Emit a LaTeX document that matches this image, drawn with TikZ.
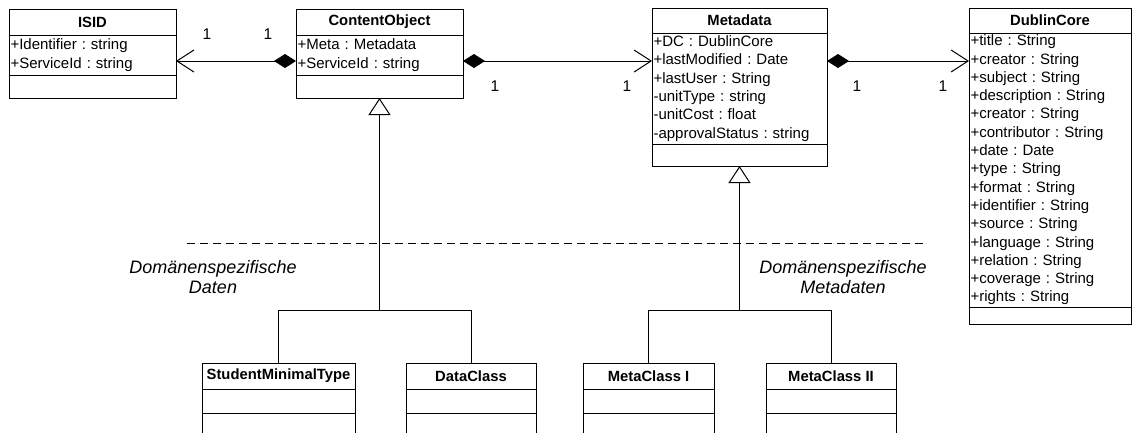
\documentclass[tikz,border=0pt]{standalone}
\usepackage{fontspec}
\setmainfont{Liberation Sans}
\usetikzlibrary{arrows.meta}
\frenchspacing

\begin{document}
\begin{tikzpicture}[x=1pt, y=-1pt, line width=1pt,
  every node/.style={font=\fontsize{15}{18.3}\selectfont, outer sep=0pt},
  clshead/.style={draw, rectangle, font=\fontsize{14.8}{18.3}\selectfont\bfseries, inner sep=0pt},
  clsbody/.style={draw, rectangle, anchor=north, align=left, inner xsep=1.5pt, inner ysep=0pt},
  mult/.style={font=\fontsize{15.5}{18}\selectfont},
  domlabel/.style={font=\fontsize{18}{20}\selectfont\itshape, align=center},
  comp/.style={{Diamond[length=22pt,width=14pt]}-{Straight Barb[length=17pt,width=22pt]}},
  gen/.style={{Triangle[open,length=17pt,width=22pt]}-}]
\useasboundingbox (0,0) rectangle (1132,432);
\clip (0,0) rectangle (1132,432);

% upper classes
\node[clshead, minimum width=167pt, minimum height=26pt] (isid) at (92.5,22) {ISID};
\node[clsbody, text width=164pt, minimum height=40pt] (isid-attr) at (isid.south) {+Identifier : string\\+ServiceId : string};
\node[clsbody, minimum width=167pt, minimum height=23pt] (isid-ops) at (isid-attr.south) {};

\node[clshead, minimum width=167pt, minimum height=26pt] (co) at (379.5,22) {ContentObject};
\node[clsbody, text width=164pt, minimum height=40pt] (co-attr) at (co.south) {+Meta : Metadata\\+ServiceId : string};
\node[clsbody, minimum width=167pt, minimum height=23pt] (co-ops) at (co-attr.south) {};

\node[clshead, minimum width=175pt, minimum height=25pt] (meta) at (739.5,20.5) {Metadata};
\node[clsbody, text width=172pt, minimum height=111pt] (meta-attr) at (meta.south) {+DC : DublinCore\\+lastModified : Date\\+lastUser : String\\-unitType : string\\-unitCost : float\\-approvalStatus : string};
\node[clsbody, minimum width=175pt, minimum height=22pt] (meta-ops) at (meta-attr.south) {};

\node[clshead, minimum width=162pt, minimum height=25pt] (dc) at (1050,20.5) {DublinCore};
\node[clsbody, text width=159pt, minimum height=274pt] (dc-attr) at (dc.south) {+title : String\\+creator : String\\+subject : String\\+description : String\\+creator : String\\+contributor : String\\+date : Date\\+type : String\\+format : String\\+identifier : String\\+source : String\\+language : String\\+relation : String\\+coverage : String\\+rights : String};
\node[clsbody, minimum width=162pt, minimum height=17pt] (dc-ops) at (dc-attr.south) {};

% lower classes
\node[clshead, minimum width=153pt, minimum height=26pt] (smt) at (278.5,376) {StudentMinimalType};
\node[clsbody, minimum width=153pt, minimum height=24pt] (smt-attr) at (smt.south) {};
\node[clsbody, minimum width=153pt, minimum height=37pt] (smt-ops) at (smt-attr.south) {};

\node[clshead, minimum width=130pt, minimum height=26pt] (dcls) at (471,376) {DataClass};
\node[clsbody, minimum width=130pt, minimum height=24pt] (dcls-attr) at (dcls.south) {};
\node[clsbody, minimum width=130pt, minimum height=37pt] (dcls-ops) at (dcls-attr.south) {};

\node[clshead, minimum width=131pt, minimum height=26pt] (mc1) at (648.5,376) {MetaClass I};
\node[clsbody, minimum width=131pt, minimum height=24pt] (mc1-attr) at (mc1.south) {};
\node[clsbody, minimum width=131pt, minimum height=37pt] (mc1-ops) at (mc1-attr.south) {};

\node[clshead, minimum width=130pt, minimum height=26pt] (mc2) at (831,376) {MetaClass II};
\node[clsbody, minimum width=130pt, minimum height=24pt] (mc2-attr) at (mc2.south) {};
\node[clsbody, minimum width=130pt, minimum height=37pt] (mc2-ops) at (mc2-attr.south) {};

% associations
\draw[comp] ([yshift=-6pt]co-attr.west) -- ([yshift=-6pt]isid-attr.east);
\draw[comp] ([yshift=-6pt]co-attr.east) -- ([yshift=27.5pt]meta-attr.west);
\draw[comp] ([yshift=27.5pt]meta-attr.east) -- ([yshift=109pt]dc-attr.west);

\node[mult] (m1) at (207,34) {1};
\node[mult] (m2) at (268,34) {1};
\node[mult] (m3) at (495,86) {1};
\node[mult] (m4) at (627,86) {1};
\node[mult] (m5) at (857,86) {1};
\node[mult] (m6) at (943,86) {1};

% inheritance
\coordinate (cojoin) at (379.5,310);
\draw[gen] (co-ops.south) -- (cojoin);
\draw (cojoin) -| (smt.north);
\draw (cojoin) -| (dcls.north);

\coordinate (metajoin) at (739.5,310);
\draw[gen] (meta-ops.south) -- (metajoin);
\draw (metajoin) -| (mc1.north);
\draw (metajoin) -| (mc2.north);

% domain border
\coordinate (sepL) at (187,243);
\coordinate (sepR) at (925,243);
\draw[dash pattern=on 8pt off 5pt] (sepL) -- (sepR);
\node[domlabel] (dom1) at (213,277) {Domänenspezifische\\Daten};
\node[domlabel] (dom2) at (843,277) {Domänenspezifische\\Metadaten};
\end{tikzpicture}
\end{document}
